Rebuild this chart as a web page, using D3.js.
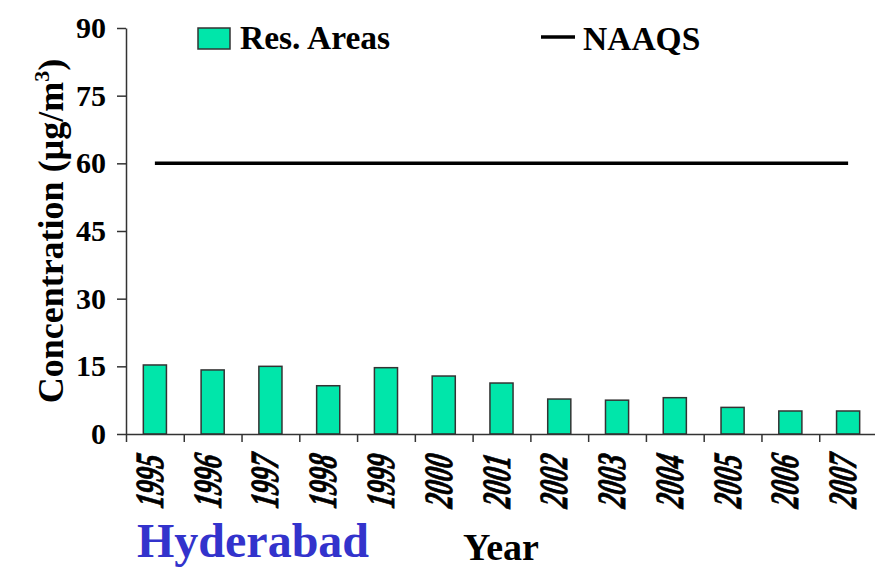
<!DOCTYPE html>
<html>
<head>
<meta charset="utf-8">
<script src="https://cdn.jsdelivr.net/npm/d3@7"></script>
<style>
    body { margin: 0; background: #fff; }
    text { font-family: "Liberation Serif", "Times New Roman", serif; font-weight: bold; }
</style>
</head>
<body>
<script>
// Values
var years = ["1995", "1996", "1997", "1998", "1999", "2000", "2001",
             "2002", "2003", "2004", "2005", "2006", "2007"];
var resAreas = [15.3, 14.2, 15.0, 10.7, 14.7, 12.85, 11.3,
                7.75, 7.5, 8.05, 5.9, 5.1, 5.1];
var naaqs = [60, 60, 60, 60, 60, 60, 60, 60, 60, 60, 60, 60, 60];
var yTicks = [0, 15, 30, 45, 60, 75, 90];

var width = 875, height = 567;
var plot = {left: 126, right: 877, top: 28, bottom: 434};

var svg = d3.select("body").append("svg")
    .attr("width", width)
    .attr("height", height);

// Scales
var xScale = d3.scaleBand()
    .domain(years)
    .range([plot.left, plot.right])
    .paddingInner(0.6)
    .paddingOuter(0.3);
var xEdge = d3.scaleLinear()
    .domain([0, years.length])
    .range([plot.left, plot.right]);
var yScale = d3.scaleLinear()
    .domain([0, 90])
    .range([plot.bottom, plot.top]);

// Bars
svg.selectAll("rect.bar")
    .data(resAreas)
    .enter()
    .append("rect")
    .attr("class", "bar")
    .attr("x", function(d, i) { return xScale(years[i]); })
    .attr("y", function(d) { return yScale(d); })
    .attr("width", xScale.bandwidth())
    .attr("height", function(d) { return yScale(0) - yScale(d); })
    .attr("fill", "#00E6AA")
    .attr("stroke", "#333")
    .attr("stroke-width", 1.5);

// NAAQS line
var line = d3.line()
    .x(function(d, i) { return xScale(years[i]) + xScale.bandwidth() / 2; })
    .y(function(d) { return yScale(d); });
svg.append("path")
    .datum(naaqs)
    .attr("d", line)
    .attr("fill", "none")
    .attr("stroke", "#000")
    .attr("stroke-width", 3.5);

// Y axis
var yAxis = d3.axisLeft(yScale)
    .tickValues(yTicks)
    .tickSize(9)
    .tickSizeOuter(0)
    .tickPadding(11);
var gy = svg.append("g")
    .attr("transform", "translate(" + plot.left + ",0)")
    .call(yAxis);
gy.selectAll("path, line").attr("stroke", "#333").attr("stroke-width", 1.5);
gy.selectAll("text")
    .attr("font-size", "30px")
    .attr("fill", "#000");

// X axis: tick marks at band edges
var xTickAxis = d3.axisBottom(xEdge)
    .tickValues(d3.range(0, years.length))
    .tickFormat("")
    .tickSize(8)
    .tickSizeOuter(0);
var gx = svg.append("g")
    .attr("transform", "translate(0," + plot.bottom + ")")
    .call(xTickAxis);
gx.selectAll("path, line").attr("stroke", "#333").attr("stroke-width", 1.5);

// X axis: rotated, condensed year labels
var xLabelAxis = d3.axisBottom(xScale).tickSize(0);
var gxl = svg.append("g")
    .attr("transform", "translate(0," + plot.bottom + ")")
    .call(xLabelAxis);
gxl.select(".domain").remove();
gxl.selectAll("text")
    .attr("transform", "translate(0,21) rotate(-90) scale(0.66,1) skewX(-14)")
    .attr("x", 0)
    .attr("y", 0)
    .attr("dy", "0.2em")
    .attr("font-size", "40px")
    .attr("font-style", "italic")
    .attr("fill", "#000")
    .attr("stroke", "#000")
    .attr("stroke-width", 0.9)
    .style("text-anchor", "end");

// Axis titles
var yTitle = svg.append("text")
    .attr("transform", "translate(63,231) rotate(-90)")
    .attr("text-anchor", "middle")
    .attr("font-size", "36px");
yTitle.append("tspan").text("Concentration (\u00b5g/m");
yTitle.append("tspan").attr("font-size", "22px").attr("dy", -14).text("3");
yTitle.append("tspan").attr("dy", 14).text(")");

svg.append("text")
    .attr("x", 501)
    .attr("y", 560)
    .attr("text-anchor", "middle")
    .attr("font-size", "38px")
    .text("Year");

svg.append("text")
    .attr("x", 137)
    .attr("y", 557)
    .attr("font-size", "48px")
    .attr("fill", "#3333CC")
    .text("Hyderabad");

// Legend
svg.append("rect")
    .attr("x", 198).attr("y", 28)
    .attr("width", 32).attr("height", 21)
    .attr("fill", "#00E6AA")
    .attr("stroke", "#333")
    .attr("stroke-width", 1.5);
svg.append("text")
    .attr("x", 240).attr("y", 49)
    .attr("font-size", "33.5px")
    .text("Res. Areas");
svg.append("line")
    .attr("x1", 541).attr("x2", 575)
    .attr("y1", 37).attr("y2", 37)
    .attr("stroke", "#000")
    .attr("stroke-width", 3.5);
svg.append("text")
    .attr("x", 583).attr("y", 50)
    .attr("font-size", "33.5px")
    .text("NAAQS");
</script>
</body>
</html>
